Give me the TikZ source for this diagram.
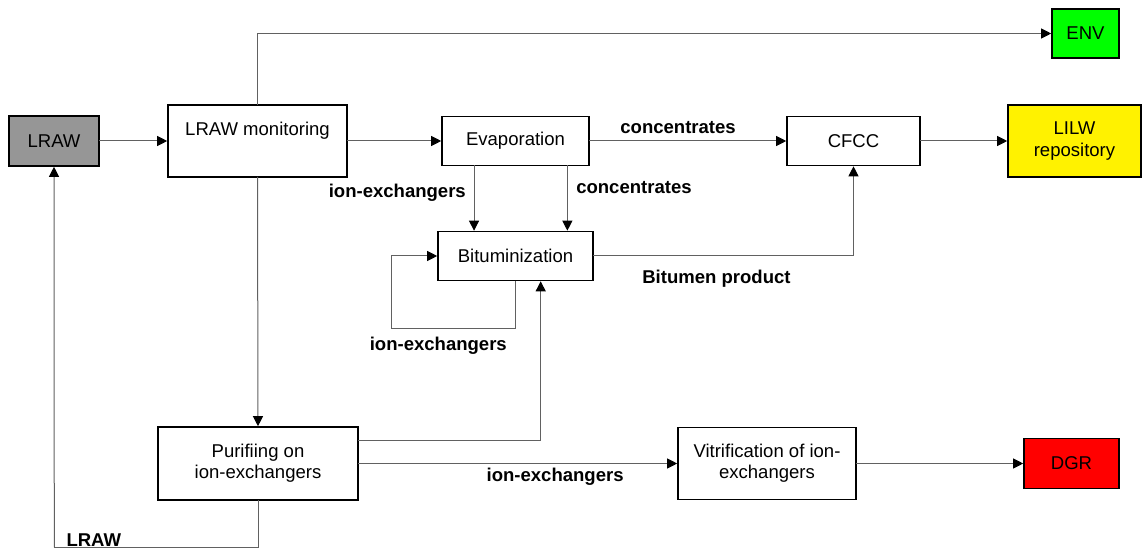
\documentclass[tikz,border=0pt]{standalone}
\usepackage{fontspec}
\setmainfont{Liberation Sans}
\usepackage{xcolor}
\usepackage{tikz}
\usetikzlibrary{positioning}
\usetikzlibrary{arrows.meta}

\definecolor{lrawgray}{RGB}{150,150,150}

\begin{document}
\begin{tikzpicture}
      [x=0.75pt,y=-0.75pt,
       font=\fontsize{13.9}{16}\selectfont,
       box/.style={draw,line width=1.3pt,align=center,inner sep=0pt,outer sep=0pt,minimum height=36.75pt},
       lbl/.style={font=\fontsize{13.9}{16}\selectfont\bfseries,inner sep=0pt},
       flow/.style={draw=black!62,line width=0.75pt,shorten >=0.6pt,-{Triangle[length=7.5pt,width=7.5pt,color=black]}},
       wire/.style={draw=black!62,line width=0.75pt}]
    \useasboundingbox (0,0) rectangle (1143,549);

    \node[box,fill=lrawgray,minimum width=67.5pt,minimum height=37.5pt] (lraw) at (54,141) {LRAW};
    \node[box,minimum width=134.25pt,inner ysep=0pt,text height=22.7pt,text depth=31.3pt]
          (mon) [right=51.75pt of lraw] {LRAW monitoring};
    \node[box,minimum width=110.25pt] (evap) [right=71.25pt of mon] {Evaporation};
    \node[box,minimum width=99.75pt] (cfcc) [right=148.5pt of evap] {CFCC};
    \node[box,fill=yellow,minimum width=99.75pt,minimum height=54pt] (lilw) [right=66pt of cfcc] {LILW\\repository};
    \node[box,fill=green,minimum width=50.25pt] (env) at (1085.5,33.5) {ENV};
    \node[box,minimum width=116.25pt] (bitum) [below=49.5pt of evap] {Bituminization};
    \node[box,minimum width=150pt,minimum height=54.75pt] (purif) at (258,463.5) {Purifiing on\\ion-exchangers};
    \node[box,minimum width=133.5pt,minimum height=54pt] (vitr) [right=240pt of purif] {Vitrification of ion-\\exchangers};
    \node[box,fill=red,minimum width=71.25pt,minimum height=37.5pt] (dgr) [right=126pt of vitr] {DGR};

    \coordinate (loopc) at (391,328);
    \coordinate (back) at (54.3,547.3);

    \draw[flow] (lraw) -- (mon);
    \draw[flow] (mon.north) |- (env.west);
    \draw[flow] (mon) -- (evap);
    \draw[flow] (evap) -- node[lbl,above=5pt,pos=0.45] {concentrates} (cfcc);
    \draw[flow] (cfcc) -- (lilw);
    \draw[flow] ([xshift=-31.1pt]evap.south) -- node[lbl,anchor=base east,pos=0.485,xshift=-5.8pt] {ion-exchangers}
          ([xshift=-31.1pt]evap.south |- bitum.north);
    \draw[flow] ([xshift=38.9pt]evap.south) -- node[lbl,anchor=base west,pos=0.42,xshift=6.3pt] {concentrates}
          ([xshift=38.9pt]evap.south |- bitum.north);
    \draw[wire] (bitum.south) -- (bitum.south |- loopc) -- node[lbl,below=6.4pt,pos=0.62] {ion-exchangers} (loopc);
    \draw[flow] (loopc) |- (bitum.west);
    \draw[wire] (bitum.east) -- node[lbl,below=10pt,pos=0.474] {Bitumen product} (bitum.east -| cfcc.south);
    \draw[flow] (bitum.east -| cfcc.south) -- (cfcc.south);
    \draw[flow] (mon.south) -- (purif.north);
    \draw[flow] ([yshift=16.9pt]purif.east) -| ([xshift=18.9pt]bitum.south);
    \draw[flow] (purif) -- node[lbl,below=3.2pt,pos=0.616] {ion-exchangers} (vitr);
    \draw[flow] (vitr) -- (dgr);
    \draw[wire] (purif.south) -- (purif.south |- back) -- node[lbl,anchor=base west,pos=1,xshift=8.8pt,yshift=0.45pt] {LRAW} (back);
    \draw[flow] (back) -- (lraw.south);
\end{tikzpicture}
\end{document}
